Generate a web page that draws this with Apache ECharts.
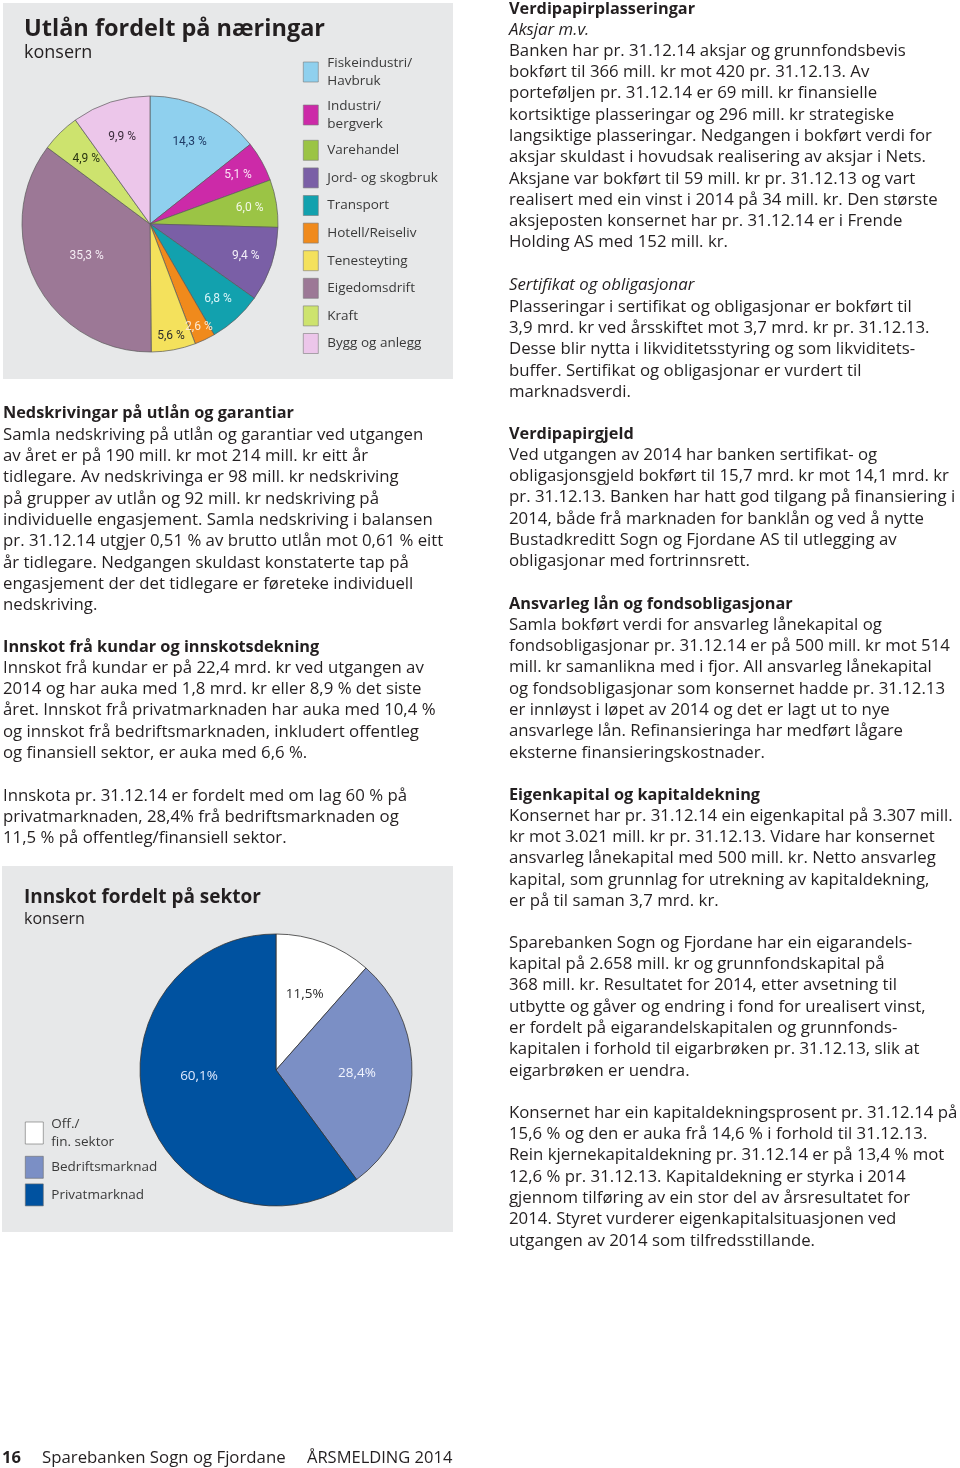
<!DOCTYPE html>
<html>
<head>
<meta charset="utf-8">
<script src="https://cdn.jsdelivr.net/npm/echarts@6/dist/echarts.min.js"></script>
<style>
html,body{margin:0;padding:0;background:#fff;}
#chart{width:960px;height:1468px;}
</style>
</head>
<body>
<div id="chart"></div>
<script>
// ---------- DATA ----------
const loanCategories = ['Fiskeindustri/\nHavbruk', 'Industri/\nbergverk', 'Varehandel', 'Jord- og skogbruk', 'Transport', 'Hotell/Reiseliv', 'Tenesteyting', 'Eigedomsdrift', 'Kraft', 'Bygg og anlegg'];
const loanShares = [14.3, 5.1, 6.0, 9.4, 6.8, 2.6, 5.6, 35.3, 4.9, 9.9];
const depositCategories = ['Off./\nfin. sektor', 'Bedriftsmarknad', 'Privatmarknad'];
const depositShares = [11.5, 28.4, 60.1];

// ---------- STYLES ----------
const loanColors = ['#8fd0ee', '#cc2aa8', '#9bc445', '#7a5fa6', '#12a1ae', '#f08a1c', '#f4e15c', '#9c7896', '#cde36e', '#ecc6ea'];
const loanLabelColors = ['#1f3b66', '#fbe3f5', '#f3f8e6', '#f3eff9', '#d9f4f8', '#fde9cf', '#2b2b2b', '#f5edf4', '#2a3510', '#3b2b3b'];
const loanLabelRing = [3, 0, 0, 0, 0, 1, 1, 2, 3, 3]; // which label ring each slice label sits on
const ringRadii = [[78, 118], [90, 132], [40, 96], [68, 108]];
const depositColors = ['#ffffff', '#7b8fc5', '#0052a0'];
const depositLabelColors = ['#2b2b2b', '#f2f5ff', '#dfeaff'];
const depositLabelLift = [0, 0, 38]; // extra blank space under label text (lifts it up by half)

const BODY_FONT = '"Open Sans", "DejaVu Sans", sans-serif';
const LABEL_FONT = '"Liberation Sans Narrow", "Roboto", sans-serif';
const fmtLoan = v => v.toFixed(1).replace('.', ',') + ' %';
const fmtDep = v => v.toFixed(1).replace('.', ',') + '%';

// ---------- TEXT ----------
const LH = 21.3;
const blocks = [
  // left column
  {x: 3, y: 413, w: 'bold', lines: ['Nedskrivingar på utlån og garantiar']},
  {x: 3, y: 435, lines: [
    'Samla nedskriving på utlån og garantiar ved utgangen',
    'av året er på 190 mill. kr mot 214 mill. kr eitt år',
    'tidlegare. Av nedskrivinga er 98 mill. kr nedskriving',
    'på grupper av utlån og 92 mill. kr nedskriving på',
    'individuelle engasjement. Samla nedskriving i balansen',
    'pr. 31.12.14 utgjer 0,51 % av brutto utlån mot 0,61 % eitt',
    'år tidlegare. Nedgangen skuldast konstaterte tap på',
    'engasjement der det tidlegare er føreteke individuell',
    'nedskriving.']},
  {x: 3, y: 647, w: 'bold', lines: ['Innskot frå kundar og innskotsdekning']},
  {x: 3, y: 668, lines: [
    'Innskot frå kundar er på 22,4 mrd. kr ved utgangen av',
    '2014 og har auka med 1,8 mrd. kr eller 8,9 % det siste',
    'året. Innskot frå privatmarknaden har auka med 10,4 %',
    'og innskot frå bedriftsmarknaden, inkludert offentleg',
    'og finansiell sektor, er auka med 6,6 %.']},
  {x: 3, y: 796, lines: [
    'Innskota pr. 31.12.14 er fordelt med om lag 60 % på',
    'privatmarknaden, 28,4% frå bedriftsmarknaden og',
    '11,5 % på offentleg/finansiell sektor.']},
  // right column
  {x: 509, y: 9, w: 'bold', lines: ['Verdipapirplasseringar']},
  {x: 509, y: 30, s: 'italic', lines: ['Aksjar m.v.']},
  {x: 509, y: 51, lines: [
    'Banken har pr. 31.12.14 aksjar og grunnfondsbevis',
    'bokført til 366 mill. kr mot 420 pr. 31.12.13. Av',
    'porteføljen pr. 31.12.14 er 69 mill. kr finansielle',
    'kortsiktige plasseringar og 296 mill. kr strategiske',
    'langsiktige plasseringar. Nedgangen i bokført verdi for',
    'aksjar skuldast i hovudsak realisering av aksjar i Nets.',
    'Aksjane var bokført til 59 mill. kr pr. 31.12.13 og vart',
    'realisert med ein vinst i 2014 på 34 mill. kr. Den største',
    'aksjeposten konsernet har pr. 31.12.14 er i Frende',
    'Holding AS med 152 mill. kr.']},
  {x: 509, y: 285, s: 'italic', lines: ['Sertifikat og obligasjonar']},
  {x: 509, y: 307, lines: [
    'Plasseringar i sertifikat og obligasjonar er bokført til',
    '3,9 mrd. kr ved årsskiftet mot 3,7 mrd. kr pr. 31.12.13.',
    'Desse blir nytta i likviditetsstyring og som likviditets-',
    'buffer. Sertifikat og obligasjonar er vurdert til',
    'marknadsverdi.']},
  {x: 509, y: 434, w: 'bold', lines: ['Verdipapirgjeld']},
  {x: 509, y: 455, lines: [
    'Ved utgangen av 2014 har banken sertifikat- og',
    'obligasjonsgjeld bokført til 15,7 mrd. kr mot 14,1 mrd. kr',
    'pr. 31.12.13. Banken har hatt god tilgang på finansiering i',
    '2014, både frå marknaden for banklån og ved å nytte',
    'Bustadkreditt Sogn og Fjordane AS til utlegging av',
    'obligasjonar med fortrinnsrett.']},
  {x: 509, y: 604, w: 'bold', lines: ['Ansvarleg lån og fondsobligasjonar']},
  {x: 509, y: 625, lines: [
    'Samla bokført verdi for ansvarleg lånekapital og',
    'fondsobligasjonar pr. 31.12.14 er på 500 mill. kr mot 514',
    'mill. kr samanlikna med i fjor. All ansvarleg lånekapital',
    'og fondsobligasjonar som konsernet hadde pr. 31.12.13',
    'er innløyst i løpet av 2014 og det er lagt ut to nye',
    'ansvarlege lån. Refinansieringa har medført lågare',
    'eksterne finansieringskostnader.']},
  {x: 509, y: 795, w: 'bold', lines: ['Eigenkapital og kapitaldekning']},
  {x: 509, y: 816, lines: [
    'Konsernet har pr. 31.12.14 ein eigenkapital på 3.307 mill.',
    'kr mot 3.021 mill. kr pr. 31.12.13. Vidare har konsernet',
    'ansvarleg lånekapital med 500 mill. kr. Netto ansvarleg',
    'kapital, som grunnlag for utrekning av kapitaldekning,',
    'er på til saman 3,7 mrd. kr.']},
  {x: 509, y: 943, lines: [
    'Sparebanken Sogn og Fjordane har ein eigarandels-',
    'kapital på 2.658 mill. kr og grunnfondskapital på',
    '368 mill. kr. Resultatet for 2014, etter avsetning til',
    'utbytte og gåver og endring i fond for urealisert vinst,',
    'er fordelt på eigarandelskapitalen og grunnfonds-',
    'kapitalen i forhold til eigarbrøken pr. 31.12.13, slik at',
    'eigarbrøken er uendra.']},
  {x: 509, y: 1113, lines: [
    'Konsernet har ein kapitaldekningsprosent pr. 31.12.14 på',
    '15,6 % og den er auka frå 14,6 % i forhold til 31.12.13.',
    'Rein kjernekapitaldekning pr. 31.12.14 er på 13,4 % mot',
    '12,6 % pr. 31.12.13. Kapitaldekning er styrka i 2014',
    'gjennom tilføring av ein stor del av årsresultatet for',
    '2014. Styret vurderer eigenkapitalsituasjonen ved',
    'utgangen av 2014 som tilfredsstillande.']}
];

const graphics = [
  {type: 'rect', z: -10, shape: {x: 3, y: 3, width: 450, height: 376}, style: {fill: '#e7e8e9'}},
  {type: 'rect', z: -10, shape: {x: 2, y: 866, width: 451, height: 366}, style: {fill: '#e7e8e9'}},
  {type: 'text', style: {x: 24, y: 29, text: 'Utlån fordelt på næringar', font: 'bold 23.5px ' + BODY_FONT, fill: '#231f20', verticalAlign: 'middle'}},
  {type: 'text', style: {x: 24, y: 53, text: 'konsern', font: '18px ' + BODY_FONT, fill: '#231f20', verticalAlign: 'middle'}},
  {type: 'text', style: {x: 24, y: 898, text: 'Innskot fordelt på sektor', font: 'bold 19px ' + BODY_FONT, fill: '#231f20', verticalAlign: 'middle'}},
  {type: 'text', style: {x: 24, y: 919, text: 'konsern', font: '16px ' + BODY_FONT, fill: '#231f20', verticalAlign: 'middle'}},
  {type: 'text', style: {x: 2, y: 1458, text: '16', font: 'bold 16.5px ' + BODY_FONT, fill: '#231f20', verticalAlign: 'middle'}},
  {type: 'text', style: {x: 42, y: 1458, text: 'Sparebanken Sogn og Fjordane', font: '16.8px ' + BODY_FONT, fill: '#231f20', verticalAlign: 'middle'}},
  {type: 'text', style: {x: 307, y: 1458, text: 'ÅRSMELDING 2014', font: '16.5px ' + BODY_FONT, fill: '#231f20', verticalAlign: 'middle'}}
];
blocks.forEach(b => {
  graphics.push({type: 'text', style: {
    x: b.x, y: b.y - LH / 2, text: b.lines.join('\n'),
    font: (b.s || 'normal') + ' ' + (b.w || 'normal') + ' ' + (b.w ? '16.3px ' : '16.8px ') + BODY_FONT,
    lineHeight: LH, fill: '#231f20', verticalAlign: 'top'
  }});
});

// ---------- SERIES ----------
const PIE1_CENTER = [150, 224], PIE1_R = 128;
const PIE2_CENTER = [276, 1070], PIE2_R = 136;

const series = [];
series.push({
  type: 'pie', name: 'Utlån', center: PIE1_CENTER, radius: [0, PIE1_R],
  startAngle: 90, clockwise: true, silent: true,
  label: {show: false}, labelLine: {show: false},
  itemStyle: {borderColor: '#5a5a5a', borderWidth: 0.7},
  emphasis: {disabled: true},
  data: loanCategories.map((n, i) => ({name: n, value: loanShares[i], itemStyle: {color: loanColors[i]}}))
});
ringRadii.forEach((rr, k) => {
  series.push({
    type: 'pie', name: 'label' + k, center: PIE1_CENTER, radius: rr,
    startAngle: 90, clockwise: true, silent: true, legendHoverLink: false,
    avoidLabelOverlap: false,
    itemStyle: {color: 'rgba(0,0,0,0)', borderWidth: 0},
    emphasis: {disabled: true}, labelLine: {show: false},
    data: loanCategories.map((n, i) => ({
      name: n, value: loanShares[i],
      itemStyle: {color: 'rgba(0,0,0,0)'},
      label: {show: loanLabelRing[i] === k, position: 'inside', formatter: fmtLoan(loanShares[i]),
        color: loanLabelColors[i], fontSize: 12, fontFamily: LABEL_FONT}
    }))
  });
});
series.push({
  type: 'pie', name: 'Innskot', center: PIE2_CENTER, radius: [0, PIE2_R],
  startAngle: 90, clockwise: true, silent: true,
  label: {show: false}, labelLine: {show: false},
  itemStyle: {borderColor: '#333333', borderWidth: 0.8},
  emphasis: {disabled: true},
  data: depositCategories.map((n, i) => ({name: n, value: depositShares[i], itemStyle: {color: depositColors[i]}}))
});
series.push({
  type: 'pie', name: 'Innskot-label', center: PIE2_CENTER, radius: [58, 98],
  startAngle: 90, clockwise: true, silent: true, legendHoverLink: false,
  avoidLabelOverlap: false,
  itemStyle: {color: 'rgba(0,0,0,0)', borderWidth: 0},
  emphasis: {disabled: true}, labelLine: {show: false},
  data: depositCategories.map((n, i) => ({
    name: n, value: depositShares[i], itemStyle: {color: 'rgba(0,0,0,0)'},
    label: {
      show: true, position: 'inside',
      formatter: depositLabelLift[i] ? '{t|' + fmtDep(depositShares[i]) + '}\n{s| }' : '{t|' + fmtDep(depositShares[i]) + '}',
      rich: {
        t: {color: depositLabelColors[i], fontSize: 13.5, fontFamily: BODY_FONT, lineHeight: 18},
        s: {fontSize: 1, lineHeight: depositLabelLift[i] || 1, height: depositLabelLift[i] || 1}
      }
    }
  }))
});

const chart = echarts.init(document.getElementById('chart'), null, {renderer: 'canvas', width: 960, height: 1468});
chart.setOption({
  animation: false,
  backgroundColor: '#ffffff',
  legend: [
    {
      data: loanCategories, orient: 'vertical', left: 298, top: 49, padding: 5,
      itemWidth: 15, itemHeight: 20, itemGap: 7, icon: 'rect', selectedMode: false,
      itemStyle: {borderColor: '#7a7a7a', borderWidth: 0.6},
      textStyle: {fontSize: 13.5, fontFamily: BODY_FONT, color: '#3a3a3a', lineHeight: 18, padding: [0, 0, 0, 4]}
    },
    {
      data: depositCategories, orient: 'vertical', left: 20, top: 1110, padding: 5,
      itemWidth: 18, itemHeight: 22, itemGap: 5, icon: 'rect', selectedMode: false,
      itemStyle: {borderColor: '#6a6a6a', borderWidth: 0.6},
      textStyle: {fontSize: 13.5, fontFamily: BODY_FONT, color: '#3a3a3a', lineHeight: 18, padding: [0, 0, 0, 3]}
    }
  ],
  graphic: graphics,
  series: series
});
</script>
</body>
</html>
